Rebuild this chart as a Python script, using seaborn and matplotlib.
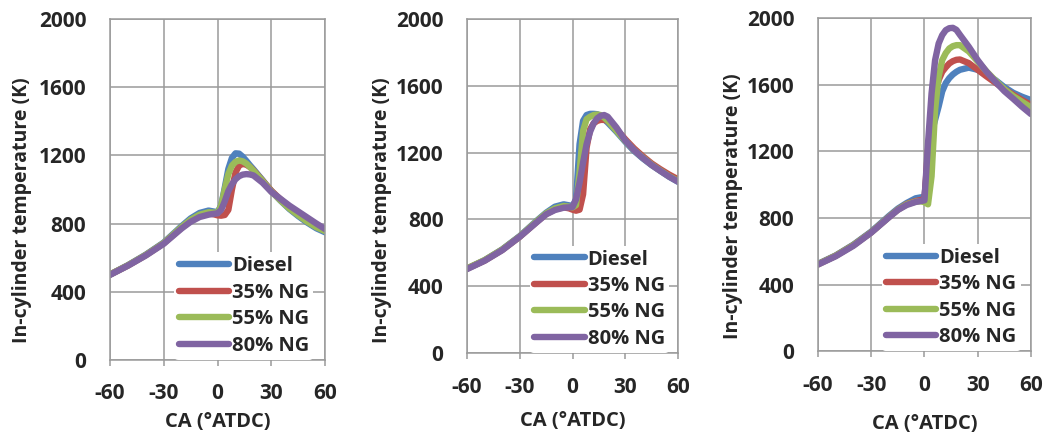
import pandas as pd
import numpy as np
from matplotlib import pyplot as plt
import seaborn as sns

# crank angle points
ca = [-60, -50, -40, -30, -20, -15, -10, -5, -2, 0, 2, 4, 6, 8, 10, 12, 14, 16, 18, 20, 25, 30, 35, 40, 45, 50, 55, 60]
fuels = ['Diesel', '35% NG', '55% NG', '80% NG']
colors = ['#4F81BD', '#C0504D', '#9BBB59', '#8064A2']

# left panel
p1_diesel = [500, 555, 617, 688, 785, 830, 862, 876, 870, 866, 905, 1010, 1120, 1185, 1212, 1210, 1192, 1168, 1142, 1118, 1055, 990, 935, 885, 843, 805, 772, 748]
p1_ng35 = [500, 553, 614, 684, 776, 818, 848, 860, 854, 848, 846, 850, 880, 1000, 1100, 1140, 1150, 1145, 1132, 1112, 1052, 992, 942, 897, 857, 818, 787, 762]
p1_ng55 = [500, 554, 615, 685, 780, 822, 852, 866, 864, 862, 905, 1000, 1090, 1140, 1162, 1170, 1165, 1152, 1132, 1110, 1050, 988, 936, 888, 848, 810, 778, 755]
p1_ng80 = [498, 552, 612, 681, 771, 810, 838, 852, 857, 860, 880, 930, 990, 1030, 1060, 1078, 1087, 1090, 1088, 1082, 1040, 985, 945, 905, 870, 835, 800, 767]

# middle panel
p2_diesel = [505, 555, 620, 700, 795, 840, 876, 890, 884, 878, 920, 1250, 1390, 1425, 1432, 1432, 1430, 1420, 1400, 1380, 1325, 1265, 1210, 1165, 1125, 1090, 1055, 1025]
p2_ng35 = [505, 553, 617, 696, 788, 832, 860, 872, 866, 858, 852, 858, 950, 1230, 1340, 1375, 1390, 1396, 1396, 1390, 1340, 1280, 1225, 1178, 1135, 1100, 1068, 1040]
p2_ng55 = [506, 556, 619, 698, 792, 836, 866, 880, 876, 872, 885, 1080, 1330, 1400, 1415, 1425, 1428, 1425, 1410, 1390, 1330, 1270, 1215, 1170, 1128, 1092, 1058, 1030]
p2_ng80 = [502, 552, 615, 696, 786, 830, 856, 870, 872, 874, 920, 1020, 1140, 1250, 1325, 1375, 1405, 1420, 1425, 1415, 1350, 1272, 1215, 1168, 1126, 1090, 1056, 1026]

# right panel
p3_diesel = [524, 575, 640, 718, 812, 856, 890, 918, 924, 924, 1150, 1310, 1390, 1470, 1560, 1610, 1640, 1662, 1678, 1690, 1703, 1690, 1660, 1628, 1586, 1552, 1528, 1508]
p3_ng35 = [522, 573, 637, 714, 806, 850, 884, 902, 908, 908, 1208, 1428, 1548, 1628, 1678, 1705, 1728, 1742, 1750, 1752, 1730, 1690, 1650, 1612, 1574, 1540, 1508, 1480]
p3_ng55 = [522, 573, 637, 714, 806, 850, 882, 898, 900, 895, 882, 1050, 1450, 1650, 1748, 1790, 1818, 1832, 1838, 1838, 1800, 1740, 1680, 1625, 1574, 1532, 1498, 1464]
p3_ng80 = [520, 570, 633, 712, 804, 848, 878, 896, 902, 906, 1248, 1548, 1748, 1848, 1898, 1928, 1940, 1942, 1930, 1900, 1828, 1748, 1678, 1618, 1562, 1516, 1468, 1424]

panels = [
    [p1_diesel, p1_ng35, p1_ng55, p1_ng80],
    [p2_diesel, p2_ng35, p2_ng55, p2_ng80],
    [p3_diesel, p3_ng35, p3_ng55, p3_ng80],
]

sns.set_theme(style='whitegrid')
plt.rcParams['font.family'] = ['Open Sans', 'DejaVu Sans']
plt.rcParams['font.weight'] = 'bold'
plt.rcParams['axes.labelweight'] = 'bold'
plt.rcParams['axes.unicode_minus'] = False

fig = plt.figure(figsize=(10.46, 4.33), dpi=100)
boxes = [
    [0.105, 0.169, 0.206, 0.787],
    [0.4465, 0.185, 0.2017, 0.771],
    [0.782, 0.189, 0.2036, 0.769],
]
xlab_y = [-0.153, -0.174, -0.189]
ylab_x = [-0.363, -0.355, -0.352]
ylab_y = [0.44, 0.428, 0.435]

grid_col = '#9A9A9A'

for i, curves in enumerate(panels):
    ax = fig.add_axes(boxes[i])
    df = pd.concat([pd.DataFrame({'CA': ca, 'T': vals, 'fuel': f}) for f, vals in zip(fuels, curves)])
    sns.lineplot(data=df, x='CA', y='T', hue='fuel', hue_order=fuels, palette=colors,
                 linewidth=4.6, ax=ax, sort=False)
    ax.set_xlim(-60, 60)
    ax.set_ylim(0, 2000)
    ax.set_xticks([-60, -30, 0, 30, 60])
    ax.set_yticks([0, 400, 800, 1200, 1600, 2000])
    ax.grid(True, color=grid_col, linewidth=1.1)
    for s in ax.spines.values():
        s.set_color(grid_col)
        s.set_linewidth(1.1)
    ax.tick_params(axis='x', which='major', bottom=True, direction='out', length=4, width=1.1,
                   color=grid_col, pad=13, labelsize=15)
    ax.tick_params(axis='y', left=False, length=0, pad=17, labelsize=15)
    for lab in ax.get_xticklabels() + ax.get_yticklabels():
        lab.set_fontweight('bold')
    ax.set_xlabel('CA (°ATDC)', fontsize=14.5, fontweight='bold')
    ax.set_ylabel('In-cylinder temperature (K)', fontsize=14, fontweight='bold')
    ax.xaxis.set_label_coords(0.5, xlab_y[i])
    ax.yaxis.set_label_coords(ylab_x[i], ylab_y[i])
    handles, labels = ax.get_legend_handles_labels()
    leg = ax.legend(handles, labels, loc='lower left', bbox_to_anchor=(0.30, 0.0),
                    frameon=True, facecolor='white', edgecolor='none', framealpha=1,
                    fontsize=14.5, handlelength=2.5, handletextpad=0.15, labelspacing=0.32,
                    borderpad=0.2, borderaxespad=0)
    for t in leg.get_texts():
        t.set_fontweight('bold')
    for h in leg.get_lines():
        h.set_linewidth(4.6)

fig.savefig('out.png', dpi=100)
